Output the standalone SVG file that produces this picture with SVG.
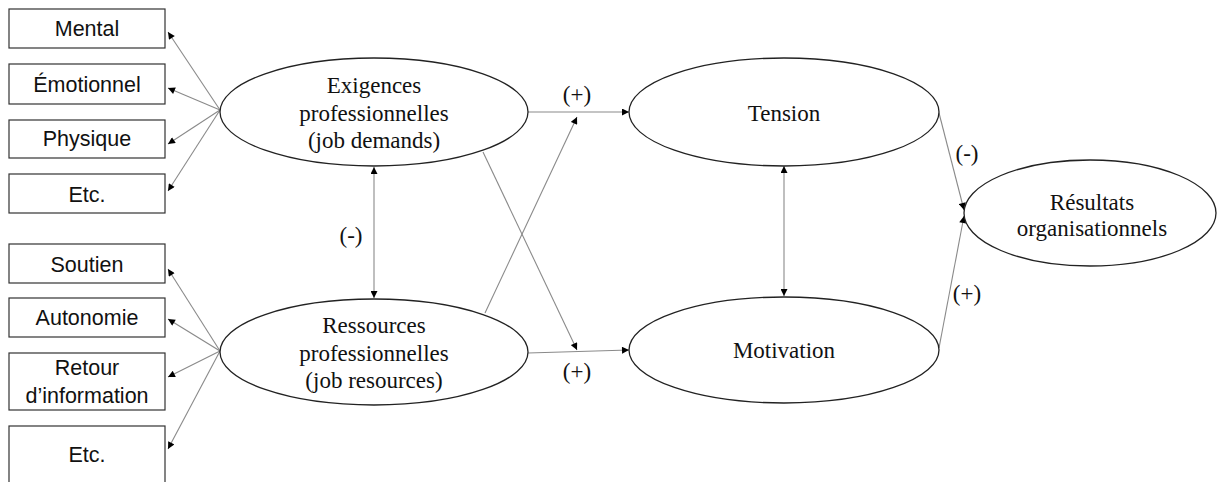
<svg xmlns="http://www.w3.org/2000/svg" width="1219" height="482" viewBox="0 0 1219 482">
<style>
.box{fill:#fff;stroke:#333;stroke-width:1.2}
.ell{fill:#fff;stroke:#222;stroke-width:1.3}
.bt{font-family:"Liberation Sans",Arial,sans-serif;font-size:21.5px;fill:#111;text-anchor:middle}
.et{font-family:"Liberation Serif","Times New Roman",serif;font-size:23px;fill:#111;text-anchor:middle}
.ln{stroke:#8a8a8a;stroke-width:1.1;fill:none}
</style>
<defs>
<marker id="ah" viewBox="0 0 10 10" refX="10" refY="5" markerWidth="8" markerHeight="7" markerUnits="userSpaceOnUse" orient="auto-start-reverse">
<path d="M0,0 L10,5 L0,10 z" fill="#000"/>
</marker>
</defs>
<rect width="1219" height="482" fill="#fff"/>
<g id="connectors">
<line class="ln" x1="220" y1="110" x2="168" y2="32" marker-end="url(#ah)"/>
<line class="ln" x1="220" y1="110" x2="168" y2="88" marker-end="url(#ah)"/>
<line class="ln" x1="220" y1="110" x2="168" y2="144" marker-end="url(#ah)"/>
<line class="ln" x1="220" y1="110" x2="168" y2="191" marker-end="url(#ah)"/>
<line class="ln" x1="220" y1="351" x2="168" y2="269" marker-end="url(#ah)"/>
<line class="ln" x1="220" y1="351" x2="168" y2="319" marker-end="url(#ah)"/>
<line class="ln" x1="220" y1="351" x2="168" y2="377" marker-end="url(#ah)"/>
<line class="ln" x1="220" y1="351" x2="168" y2="449" marker-end="url(#ah)"/>
<line class="ln" x1="374" y1="167" x2="374" y2="298" marker-start="url(#ah)" marker-end="url(#ah)"/>
<line class="ln" x1="784" y1="166" x2="784" y2="296" marker-start="url(#ah)" marker-end="url(#ah)"/>
<line class="ln" x1="528" y1="112" x2="629" y2="112" marker-end="url(#ah)"/>
<line class="ln" x1="485" y1="313" x2="577" y2="117" marker-end="url(#ah)"/>
<line class="ln" x1="483" y1="152" x2="577" y2="350" marker-end="url(#ah)"/>
<line class="ln" x1="528" y1="353" x2="629" y2="350" marker-end="url(#ah)"/>
<line class="ln" x1="939" y1="113" x2="964" y2="210" marker-end="url(#ah)"/>
<line class="ln" x1="939" y1="348" x2="964" y2="216" marker-end="url(#ah)"/>
<text class="et" x="577" y="102">(+)</text>
<text class="et" x="577" y="379">(+)</text>
<text class="et" x="351" y="243">(-)</text>
<text class="et" x="967" y="161">(-)</text>
<text class="et" x="967" y="301">(+)</text>
</g>
<g id="n-mental"><rect class="box" x="9" y="9" width="156" height="39"/><text class="bt" x="87" y="36">Mental</text></g>
<g id="n-emotionnel"><rect class="box" x="9" y="64" width="156" height="40"/><text class="bt" x="87" y="92">Émotionnel</text></g>
<g id="n-physique"><rect class="box" x="9" y="120" width="156" height="38"/><text class="bt" x="87" y="146">Physique</text></g>
<g id="n-etc1"><rect class="box" x="9" y="174" width="156" height="39"/><text class="bt" x="87" y="202">Etc.</text></g>
<g id="n-soutien"><rect class="box" x="9" y="244" width="156" height="39"/><text class="bt" x="87" y="272">Soutien</text></g>
<g id="n-autonomie"><rect class="box" x="9" y="298" width="156" height="39"/><text class="bt" x="87" y="325">Autonomie</text></g>
<g id="n-retour"><rect class="box" x="9" y="353" width="156" height="57"/><text class="bt" x="87" y="375">Retour</text><text class="bt" x="87" y="403">d’information</text></g>
<g id="n-etc2"><rect class="box" x="9" y="426" width="156" height="70"/><text class="bt" x="87" y="462">Etc.</text></g>
<g id="n-exigences"><ellipse class="ell" cx="374" cy="112" rx="154" ry="54"/><text class="et" x="374" y="93">Exigences</text><text class="et" x="374" y="121">professionnelles</text><text class="et" x="374" y="148">(job demands)</text></g>
<g id="n-ressources"><ellipse class="ell" cx="374" cy="352" rx="154" ry="53"/><text class="et" x="374" y="333">Ressources</text><text class="et" x="374" y="361">professionnelles</text><text class="et" x="374" y="388">(job resources)</text></g>
<g id="n-tension"><ellipse class="ell" cx="784" cy="112" rx="155" ry="54"/><text class="et" x="784" y="121">Tension</text></g>
<g id="n-motivation"><ellipse class="ell" cx="784" cy="350" rx="155" ry="53"/><text class="et" x="784" y="358">Motivation</text></g>
<g id="n-resultats"><ellipse class="ell" cx="1090" cy="213" rx="126" ry="53"/><text class="et" x="1092" y="210">Résultats</text><text class="et" x="1092" y="236">organisationnels</text></g>
</svg>
